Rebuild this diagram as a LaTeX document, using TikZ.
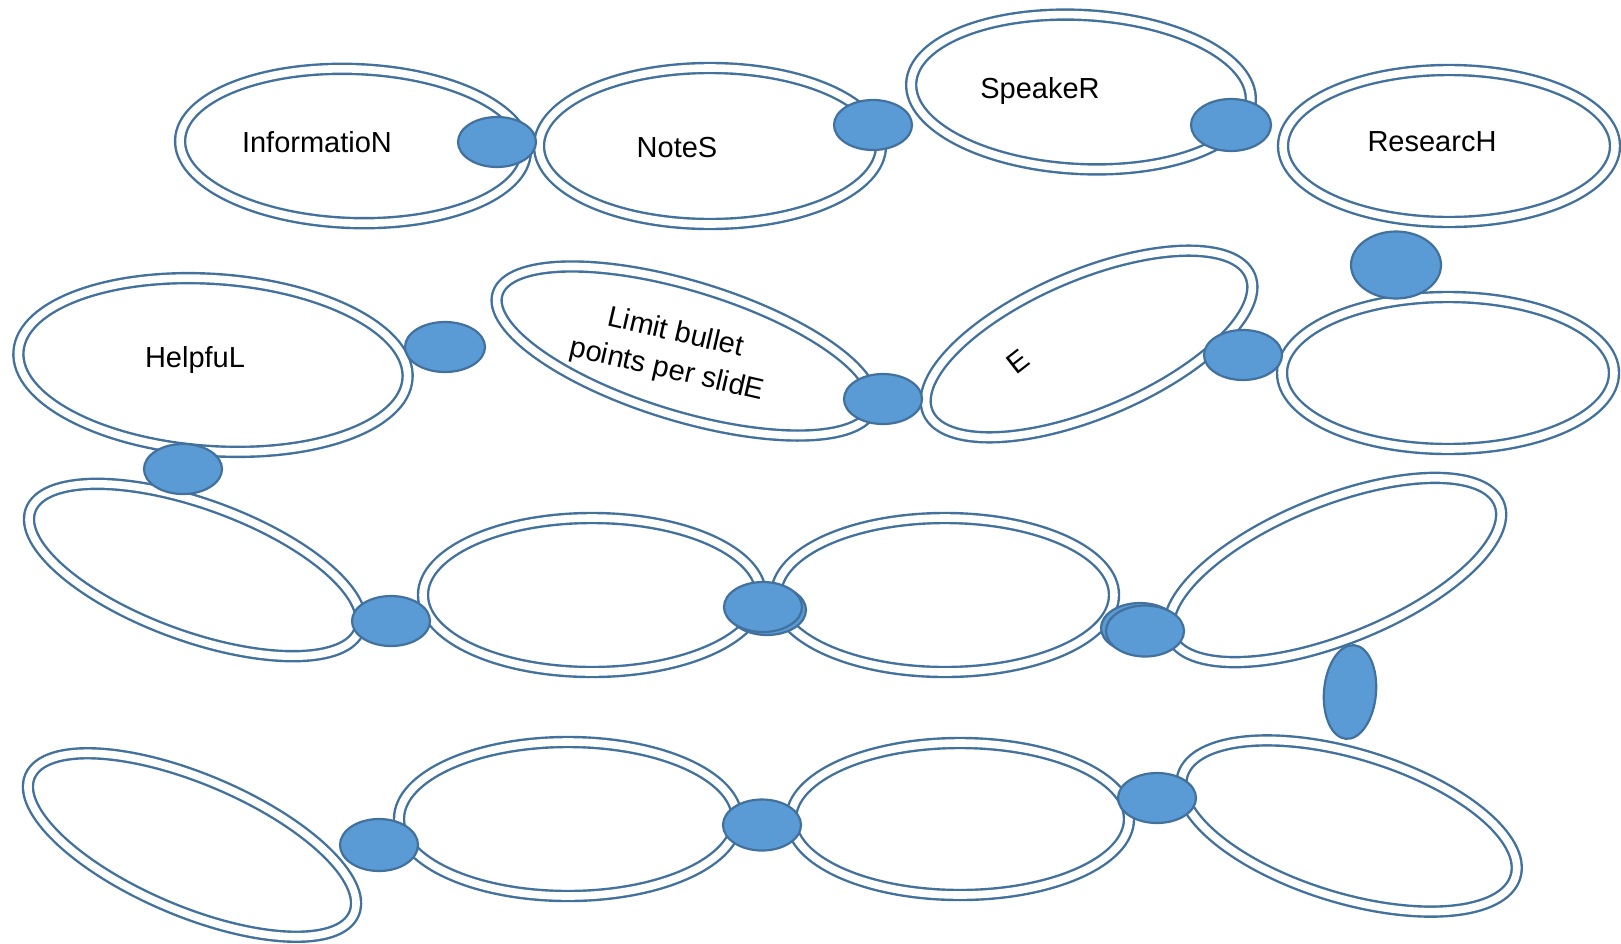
\documentclass[tikz,border=0pt]{standalone}
\usepackage{fontspec}
\setmainfont{Liberation Sans}
\usetikzlibrary{shapes.geometric}
\definecolor{ringblue}{HTML}{41719C}
\definecolor{linkfill}{HTML}{5B9BD5}
\definecolor{linkline}{HTML}{41719C}
\begin{document}
\begin{tikzpicture}[x=1pt,y=-1pt,
  ring/.style={ellipse, draw=ringblue, line width=2.4pt, double=white, double distance=7.6pt, inner sep=0pt, outer sep=0pt},
  link/.style={ellipse, draw=linkline, fill=linkfill, line width=2.2pt, inner sep=0pt, minimum width=78pt, minimum height=50pt},
  lbl/.style={font=\fontsize{29}{35}\selectfont, inner sep=0pt, text height=21pt, text depth=6pt},
  lblfree/.style={font=\fontsize{29}{38}\selectfont, inner sep=0pt, align=center}]
\useasboundingbox (0,0) rectangle (1621,943);
% rings, row 1
\node[ring, minimum width=346pt, minimum height=154pt, rotate=-2] (r1) at (353,146) {};
\node[ring, minimum width=342pt, minimum height=156pt] (r2) at (710,146) {};
\node[ring, minimum width=340pt, minimum height=154pt, rotate=-3] (r3) at (1081,92) {};
\node[ring, minimum width=332pt, minimum height=152pt] (r4) at (1449,146) {};
% row 2
\node[ring, minimum width=332pt, minimum height=152pt] (r5) at (1448,373) {};
\node[ring, minimum width=350pt, minimum height=138pt, rotate=23] (r6) at (1089,344) {};
\node[ring, minimum width=392pt, minimum height=130pt, rotate=-17] (r7) at (685,351) {};
\node[ring, minimum width=390pt, minimum height=172pt, rotate=-4] (r8) at (213,365) {};
% row 3
\node[ring, minimum width=350pt, minimum height=132pt, rotate=-20] (r9) at (195,570) {};
\node[ring, minimum width=338pt, minimum height=154pt] (r10) at (592,595) {};
\node[ring, minimum width=338pt, minimum height=154pt] (r11) at (945,595) {};
\node[ring, minimum width=354pt, minimum height=138pt, rotate=22] (r12) at (1335,570) {};
% row 4
\node[ring, minimum width=352pt, minimum height=132pt, rotate=-23] (r13) at (192,845) {};
\node[ring, minimum width=338pt, minimum height=154pt] (r14) at (568,819) {};
\node[ring, minimum width=338pt, minimum height=152pt] (r15) at (960,819) {};
\node[ring, minimum width=348pt, minimum height=144pt, rotate=-17] (r16) at (1349,826) {};
% labels
\node[lbl] (t1) at (317,144.5) {InformatioN};
\node[lbl] (t2) at (677,150) {NoteS};
\node[lbl] (t3) at (1040,90.5) {SpeakeR};
\node[lbl] (t4) at (1432,143.5) {ResearcH};
\node[lbl] (t8) at (195,359.5) {HelpfuL};
\node[lblfree, rotate=38] (t6) at (1018,362) {E};
\node[lblfree, rotate=-13] (t7) at (671,352) {Limit bullet\\points per slidE};
% links
\node[link] (l1) at (497,142) {};
\node[link] (l2) at (873,125) {};
\node[link, minimum width=80pt, minimum height=52pt] (l3) at (1231,125) {};
\node[link, minimum width=90pt, minimum height=67pt] (l4) at (1396,265) {};
\node[link] (l5) at (1243,355) {};
\node[link] (l6) at (883,399) {};
\node[link, minimum width=80pt] (l7) at (445,347) {};
\node[link] (l8) at (183,469) {};
\node[link] (l9) at (391,621) {};
\node[link] (l10b) at (767,610) {};
\node[link] (l10) at (763,607) {};
\node[link] (l11b) at (1140,628) {};
\node[link, minimum height=51pt] (l11) at (1145,631) {};
\node[link, minimum width=52pt, minimum height=94pt, rotate=-5] (l12) at (1350,692) {};
\node[link, minimum height=52pt] (l13) at (379,845) {};
\node[link, minimum height=51pt] (l14) at (762,825) {};
\node[link] (l15) at (1157,798) {};
\end{tikzpicture}
\end{document}
